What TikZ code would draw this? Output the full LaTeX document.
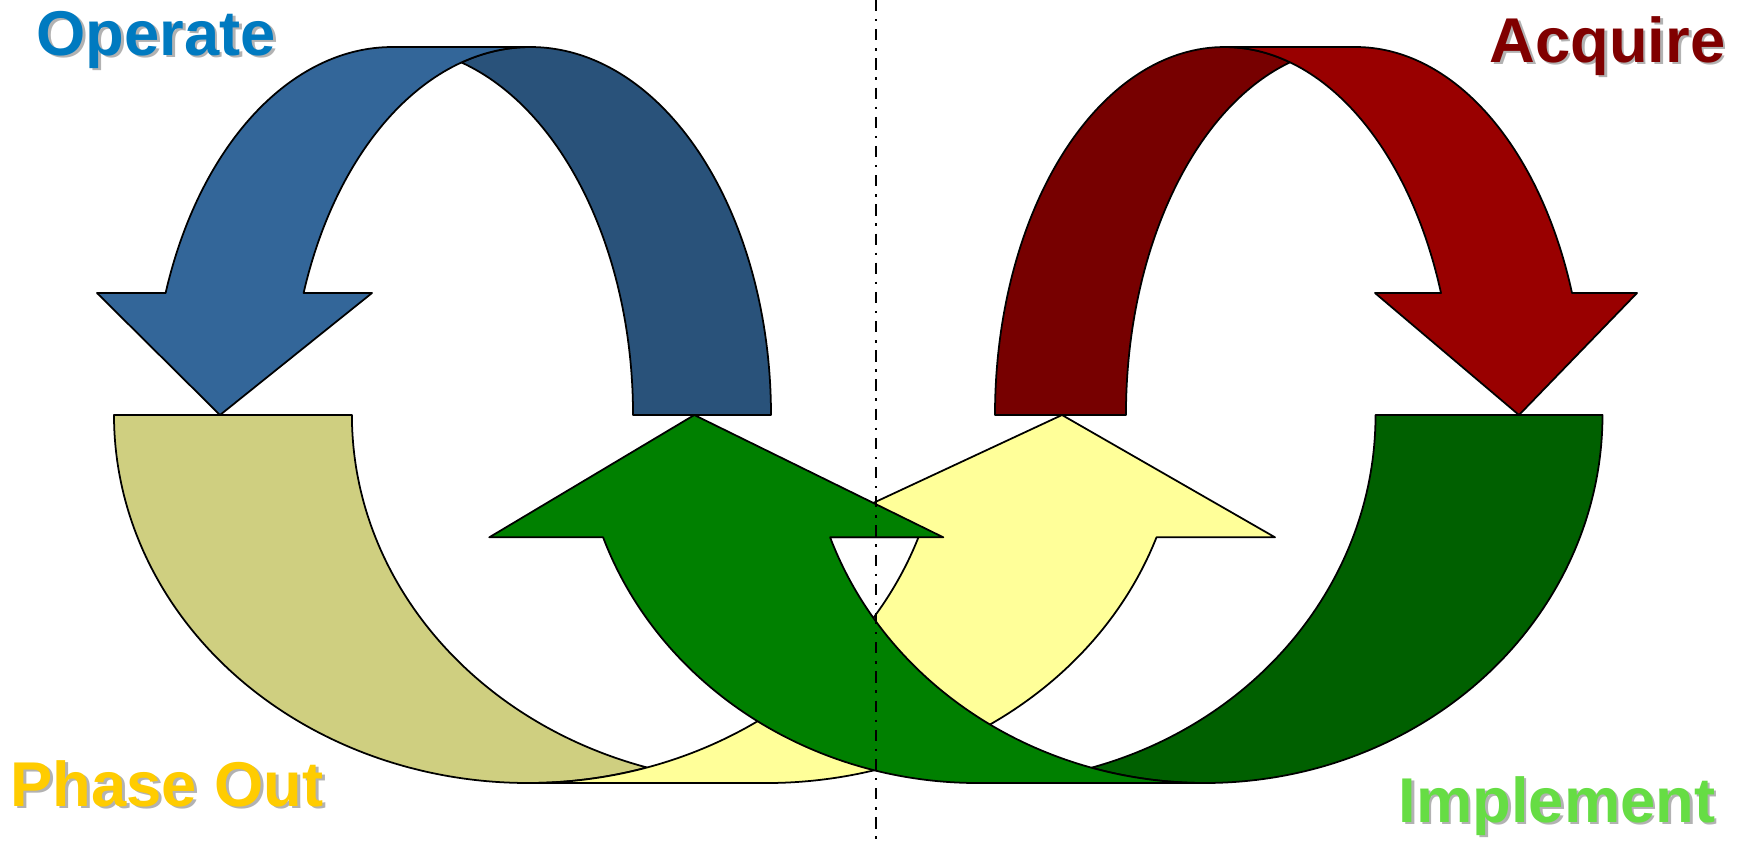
\documentclass[tikz,border=0pt]{standalone}
\usepackage{fontspec}
\setmainfont{Liberation Sans}
\usepackage{tikz}

\definecolor{opfront}{RGB}{51,102,153}
\definecolor{opback}{RGB}{41,82,122}
\definecolor{acfront}{RGB}{153,0,0}
\definecolor{acback}{RGB}{119,0,0}
\definecolor{imfront}{RGB}{0,128,0}
\definecolor{imback}{RGB}{0,96,0}
\definecolor{phfront}{RGB}{255,255,153}
\definecolor{phback}{RGB}{207,207,128}
\definecolor{optext}{RGB}{0,122,192}
\definecolor{actext}{RGB}{128,0,0}
\definecolor{phtext}{RGB}{255,204,0}
\definecolor{imtext}{RGB}{102,221,68}
\definecolor{shadowgray}{RGB}{178,178,178}

\begin{document}
\begin{tikzpicture}[x=0.01cm,y=-0.01cm,
  band/.style={draw=black,line width=0.5pt,line join=round},
  stage/.style={font=\fontsize{18}{22}\selectfont\bfseries,inner sep=0pt,anchor=base west},
  stageshadow/.style={stage,text=shadowgray}]
\useasboundingbox (0,0) rectangle (1744,841);

% Operate (curved down, head on the left)
\filldraw[band,fill=opback] (771,415)
  arc[start angle=360,end angle=253.33,x radius=240.5,y radius=368]
  arc[start angle=286.67,end angle=360,x radius=240.5,y radius=368] -- cycle;
\filldraw[band,fill=opfront] (392.5,47)
  arc[start angle=270,end angle=199.36,x radius=240.5,y radius=368]
  -- (97,293) -- (220,415) -- (372,293) -- (303.6,293)
  arc[start angle=199.36,end angle=270,x radius=240.5,y radius=368] -- cycle;

% Acquire (curved down, head on the right)
\filldraw[band,fill=acback] (995,415)
  arc[start angle=180,end angle=286.58,x radius=229.5,y radius=368]
  arc[start angle=253.42,end angle=180,x radius=229.5,y radius=368] -- cycle;
\filldraw[band,fill=acfront] (1355.5,47)
  arc[start angle=270,end angle=340.64,x radius=229.5,y radius=368]
  -- (1637,293) -- (1519,415) -- (1375,293) -- (1441,293)
  arc[start angle=340.64,end angle=270,x radius=229.5,y radius=368] -- cycle;

% Phase Out (curved up, head on the right)
\filldraw[band,fill=phback] (114,415)
  arc[start angle=180,end angle=73.3,x radius=414,y radius=368]
  arc[start angle=106.7,end angle=180,x radius=414,y radius=368] -- cycle;
\filldraw[band,fill=phfront] (528,783)
  arc[start angle=90,end angle=19.41,x radius=414,y radius=368]
  -- (799.5,537.3) -- (1062,415) -- (1275,537.3) -- (1156.5,537.3)
  arc[start angle=19.41,end angle=90,x radius=414,y radius=368] -- cycle;

% Implement (curved up, head on the left)
\filldraw[band,fill=imback] (1602.5,415)
  arc[start angle=0,end angle=106.59,x radius=397.5,y radius=368]
  arc[start angle=73.41,end angle=0,x radius=397.5,y radius=368] -- cycle;
\filldraw[band,fill=imfront] (1205,783)
  arc[start angle=90,end angle=160.59,x radius=397.5,y radius=368]
  -- (943.3,537.3) -- (694.3,415) -- (489.3,537.3) -- (603.1,537.3)
  arc[start angle=160.59,end angle=90,x radius=397.5,y radius=368] -- cycle;

% divider
\coordinate (divtop) at (876,0);
\coordinate (divbot) at (876,841);
\draw[line width=0.75pt,dash pattern=on 3.2pt off 2.2pt on 0.7pt off 2.2pt] (divtop) -- (divbot);

\node[stageshadow] (operatesh) at (38.5,57.5) {Operate};
\node[stage,text=optext] (operate) at (36,55) {Operate};
\node[stageshadow] (acquiresh) at (1491.5,64.5) {Acquire};
\node[stage,text=actext] (acquire) at (1489,62) {Acquire};
\node[stageshadow] (phaseoutsh) at (12.5,808.5) {Phase Out};
\node[stage,text=phtext] (phaseout) at (10,806) {Phase Out};
\node[stageshadow] (implementsh) at (1400.5,824.5) {Implement};
\node[stage,text=imtext] (implement) at (1398,822) {Implement};
\end{tikzpicture}
\end{document}
